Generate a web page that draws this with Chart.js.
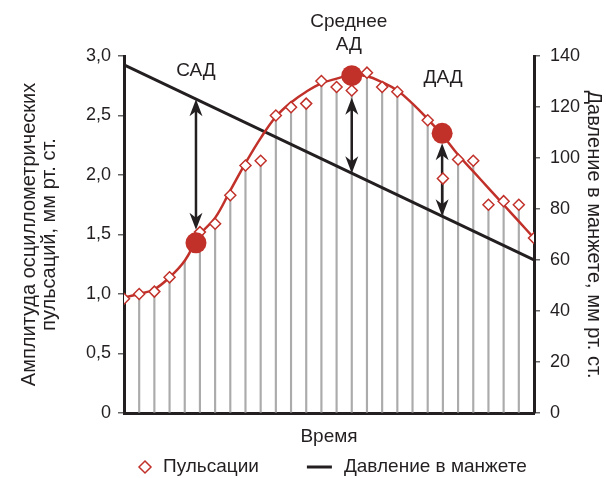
<!DOCTYPE html>
<html lang="ru">
<head>
<meta charset="utf-8">
<title>Осциллометрическое измерение АД</title>
<script src="https://cdn.jsdelivr.net/npm/chart.js@4.4.1/dist/chart.umd.min.js"></script>
<style>
  html, body { margin: 0; padding: 0; background: #fff; }
  #wrap { width: 606px; height: 478px; }
</style>
</head>
<body>
<div id="wrap"><canvas id="oscillo" width="606" height="478"></canvas></div>
<script>
// deflation steps along the time axis
var steps = [0, 1, 2, 3, 4, 5, 6, 7, 8, 9, 10, 11, 12, 13, 14, 15, 16, 17, 18, 19, 20, 21, 22, 23, 24, 25, 26, 27];
// measured pulse amplitudes, mm Hg (null = no pulse recorded at that step)
var pulses = [0.96, 1.0, 1.02, 1.14, null, 1.52, 1.59, 1.83, 2.08, 2.12, 2.50, 2.57, 2.60, 2.79,
              2.74, 2.71, 2.86, 2.74, 2.70, null, 2.46, 1.97, 2.13, 2.12, 1.75, 1.78, 1.75, 1.47];
// smoothed envelope of the pulses
var envelope = [0.97, 1.0, 1.04, 1.14, 1.28, 1.50, 1.64, 1.87, 2.10, 2.31, 2.49, 2.61, 2.70, 2.77,
                2.81, 2.84, 2.83, 2.78, 2.71, 2.60, 2.47, 2.33, 2.17, 2.03, 1.89, 1.75, 1.61, 1.47];
// cuff pressure, mm Hg, at start and end of deflation
var cuffSteps = [0, 27];
var cuffPressure = [136.5, 60];
// systolic, mean and diastolic points on the envelope
var keyNames = [['САД'], ['Среднее', 'АД'], ['ДАД']];
var keySteps = [4.74, 15, 20.95];
var keyAmps = [1.43, 2.835, 2.35];
// axis tick labels
var ampTicks = ['0', '0,5', '1,0', '1,5', '2,0', '2,5', '3,0'];
var mmTicks = ['0', '20', '40', '60', '80', '100', '120', '140'];

var FONT = '"Liberation Sans", Arial, Helvetica, sans-serif';
var INK = '#231f20';
var RED = '#c1312a';
var GREY = '#ababab';

Chart.defaults.font.family = FONT;
Chart.defaults.color = INK;

function cuffAt(step) {
  var t = (step - cuffSteps[0]) / (cuffSteps[1] - cuffSteps[0]);
  return cuffPressure[0] + (cuffPressure[1] - cuffPressure[0]) * t;
}

function arrowHead(ctx, x, tipY, dir) {
  // dir: +1 points down, -1 points up
  var len = 17, half = 6.5, notch = 5;
  ctx.beginPath();
  ctx.moveTo(x, tipY);
  ctx.lineTo(x - half, tipY - dir * len);
  ctx.lineTo(x, tipY - dir * (len - notch));
  ctx.lineTo(x + half, tipY - dir * len);
  ctx.closePath();
  ctx.fill();
}

// double arrows between key points and the cuff pressure line,
// drawn right after the envelope so the pulse markers stay on top
var keyArrows = {
  id: 'keyArrows',
  afterDatasetDraw: function (chart, args, opts) {
    if (args.meta.label !== 'Огибающая') return;
    var ctx = chart.ctx, xs = chart.scales.x, ys = chart.scales.y, ps = chart.scales.y2;
    ctx.save();
    ctx.fillStyle = INK;
    ctx.strokeStyle = INK;
    ctx.lineWidth = 2.5;
    for (var i = 0; i < keySteps.length; i++) {
      var x = xs.getPixelForValue(keySteps[i]);
      var cy = ys.getPixelForValue(keyAmps[i]);
      var ly = ps.getPixelForValue(cuffAt(keySteps[i]));
      var dir = ly < cy ? -1 : 1;
      var a = cy + dir * opts.gaps[i];
      var b = ly;
      ctx.beginPath();
      ctx.moveTo(x, a + dir * 10);
      ctx.lineTo(x, b - dir * 10);
      ctx.stroke();
      arrowHead(ctx, x, a, -dir);
      arrowHead(ctx, x, b, dir);
    }
    ctx.restore();
  }
};

// names of the key points
var keyText = {
  id: 'keyText',
  afterDatasetsDraw: function (chart, args, opts) {
    var ctx = chart.ctx, xs = chart.scales.x, ys = chart.scales.y;
    ctx.save();
    ctx.font = '19px ' + FONT;
    ctx.fillStyle = INK;
    ctx.textAlign = 'center';
    ctx.textBaseline = 'middle';
    for (var i = 0; i < keyNames.length; i++) {
      var x = xs.getPixelForValue(keySteps[i]) + opts.dx[i];
      var y = ys.getPixelForValue(opts.at[i]);
      keyNames[i].forEach(function (line, k) {
        ctx.fillText(line, x, y + k * 23);
      });
    }
    ctx.restore();
  }
};

// one-row legend under the axis title
var legendRow = {
  id: 'legendRow',
  afterDraw: function (chart, args, opts) {
    var ctx = chart.ctx;
    var items = chart.data.datasets.filter(function (d) { return d.inLegend; });
    ctx.save();
    ctx.font = '19px ' + FONT;
    ctx.textBaseline = 'middle';
    var x = opts.left, y = opts.y;
    items.forEach(function (d) {
      var box = d.pointStyle === 'rectRot' ? 12 : 25;
      if (d.pointStyle === 'rectRot') {
        var cx = x + box / 2;
        ctx.beginPath();
        ctx.moveTo(cx - 6, y);
        ctx.lineTo(cx, y - 6);
        ctx.lineTo(cx + 6, y);
        ctx.lineTo(cx, y + 6);
        ctx.closePath();
        ctx.fillStyle = '#fff';
        ctx.fill();
        ctx.lineWidth = 1.5;
        ctx.strokeStyle = RED;
        ctx.stroke();
      } else {
        ctx.beginPath();
        ctx.moveTo(x, y);
        ctx.lineTo(x + box, y);
        ctx.lineWidth = 3;
        ctx.strokeStyle = INK;
        ctx.stroke();
      }
      ctx.fillStyle = INK;
      ctx.fillText(d.label, x + box + opts.gap, y);
      x += box + opts.gap + ctx.measureText(d.label).width + opts.spacing;
    });
    ctx.restore();
  }
};

var ctx = document.getElementById('oscillo').getContext('2d');

var pulsePoints = steps.map(function (s, i) { return { x: s, y: pulses[i] }; });
var envelopePoints = steps.map(function (s, i) { return { x: s, y: envelope[i] }; });
// grey drop lines from the axis up to each pulse (or to the envelope where no pulse was taken)
var dropPoints = steps
  .map(function (s, i) { return { x: s, y: pulses[i] !== null ? pulses[i] : envelope[i] }; })
  .filter(function (p) { return p.x > steps[0] && p.x < steps[steps.length - 1]; });
var cuffPoints = cuffSteps.map(function (s, i) { return { x: s, y: cuffPressure[i] }; });
var keyPoints = keySteps.map(function (s, i) { return { x: s, y: keyAmps[i] }; });

new Chart(ctx, {
  type: 'line',
  data: {
    datasets: [
      {
        label: 'Ключевые точки',
        data: keyPoints,
        showLine: false,
        pointRadius: 10.5,
        pointBackgroundColor: RED,
        pointBorderWidth: 0,
        order: 0
      },
      {
        label: 'Пульсации',
        inLegend: true,
        data: pulsePoints,
        showLine: false,
        pointStyle: 'rectRot',
        pointRadius: 5.5,
        pointBorderWidth: 1.5,
        pointBorderColor: RED,
        pointBackgroundColor: '#fff',
        order: 1
      },
      {
        label: 'Огибающая',
        data: envelopePoints,
        borderColor: RED,
        borderWidth: 2.5,
        tension: 0.4,
        pointRadius: 0,
        order: 2
      },
      {
        label: 'Давление в манжете',
        inLegend: true,
        data: cuffPoints,
        yAxisID: 'y2',
        borderColor: INK,
        borderWidth: 3,
        pointRadius: 0,
        order: 3
      },
      {
        type: 'bar',
        label: 'Отсчёты',
        data: dropPoints,
        backgroundColor: GREY,
        barThickness: 1.5,
        order: 4
      }
    ]
  },
  options: {
    responsive: false,
    animation: false,
    layout: { padding: { top: 56, right: 0, bottom: 0, left: 0 } },
    plugins: {
      legend: { display: false },
      tooltip: { enabled: false },
      keyArrows: { gaps: [13, 22, 10] },
      keyText: { at: [2.88, 3.29, 2.82], dx: [0, -3, 1] },
      legendRow: { left: 139, y: 467, gap: 12, spacing: 48 }
    },
    scales: {
      x: {
        type: 'linear',
        min: steps[0],
        max: steps[steps.length - 1],
        offset: false,
        grid: { display: false },
        ticks: { display: false },
        border: { display: true, width: 3, color: INK },
        title: {
          display: true,
          text: 'Время',
          font: { size: 19 },
          padding: { top: 0, bottom: 30 }
        },
        afterFit: function (scale) { scale.height = 65; }
      },
      y: {
        position: 'left',
        min: 0,
        max: 3,
        ticks: {
          stepSize: 0.5,
          padding: 7,
          font: { size: 18 },
          callback: function (v, i) { return ampTicks[i]; }
        },
        grid: { drawOnChartArea: false, tickLength: 6, color: '#666', lineWidth: 1.5 },
        border: { display: true, width: 3, color: INK },
        title: {
          display: true,
          text: ['Амплитуда осциллометрических', 'пульсаций, мм рт. ст.'],
          font: { size: 20, lineHeight: 1.0 },
          padding: { top: 19, bottom: 0 }
        },
        afterFit: function (scale) { scale.width = 124; }
      },
      y2: {
        position: 'right',
        min: 0,
        max: 140,
        ticks: {
          stepSize: 20,
          padding: 10,
          font: { size: 18 },
          callback: function (v, i) { return mmTicks[i]; }
        },
        grid: { drawOnChartArea: false, tickLength: 6, color: '#666', lineWidth: 1.5 },
        border: { display: true, width: 3, color: INK },
        title: {
          display: true,
          text: 'Давление в манжете, мм рт. ст.',
          font: { size: 20, lineHeight: 1.0 },
          padding: { top: 2, bottom: 0 }
        },
        afterFit: function (scale) { scale.width = 72; }
      }
    }
  },
  plugins: [keyArrows, keyText, legendRow]
});
</script>
</body>
</html>
